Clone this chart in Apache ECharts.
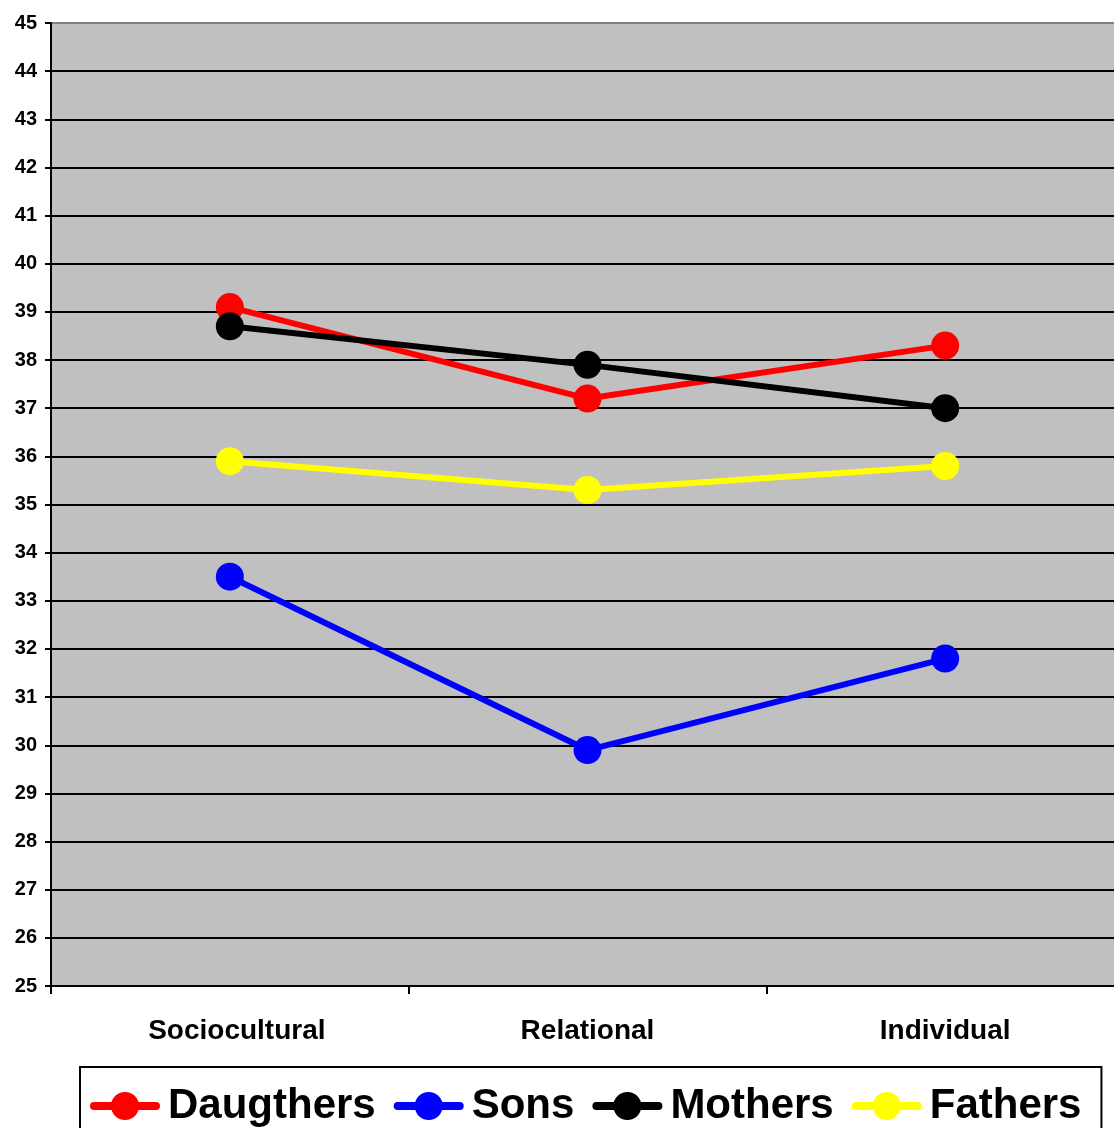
<!DOCTYPE html>
<html><head><meta charset="utf-8">
<script src="https://cdn.jsdelivr.net/npm/echarts@6/dist/echarts.min.js"></script>
<style>html,body{margin:0;padding:0;background:#fff;}#c{width:1114px;height:1128px;}</style>
</head><body><div id="c"></div>
<script>
const categories = ['Sociocultural', 'Relational', 'Individual'];
const daughters = [39.1, 37.2, 38.3];
const sons = [33.5, 29.9, 31.8];
const mothers = [38.7, 37.9, 37.0];
const fathers = [35.9, 35.3, 35.8];
const seriesNames = ['Daugthers', 'Sons', 'Mothers', 'Fathers'];
const seriesColors = ['#FF0000', '#0000FF', '#000000', '#FFFF00'];
const seriesData = [daughters, sons, mothers, fathers];

const legendIcon = 'path://M4,9 L66,9 A4,4 0 0 1 66,17 L4,17 A4,4 0 0 1 4,9 Z M21,13 A14,14 0 1 1 49,13 A14,14 0 1 1 21,13 Z';

// gridline colours: black everywhere, grey for the top (45) line
const splitColors = [];
for (let i = 0; i < 20; i++) splitColors.push('#000');
splitColors.push('#808080');

const chart = echarts.init(document.getElementById('c'), null, {renderer: 'canvas'});
const font = 'Arial, "Liberation Sans", sans-serif';
chart.setOption({
  animation: false,
  grid: {left: 51, top: 23, width: 1073, height: 963, show: true,
    outerBoundsMode: 'none', containLabel: false,
    backgroundColor: '#C0C0C0', borderColor: '#808080', borderWidth: 1},
  xAxis: {
    type: 'category', data: categories, boundaryGap: true,
    axisLine: {lineStyle: {color: '#000', width: 2}},
    axisTick: {show: true, length: 8, lineStyle: {color: '#000', width: 2}},
    axisLabel: {color: '#000', fontSize: 28, fontWeight: 'bold', fontFamily: font, margin: 31,
      formatter: (v, i) => i === 0 ? '{a|' + v + '}' : v,
      rich: {a: {color: '#000', fontSize: 28, fontWeight: 'bold', fontFamily: font, padding: [0, 0, 0, 14]}}},
    splitLine: {show: false}
  },
  yAxis: {
    type: 'value', min: 25, max: 45, interval: 1,
    axisLine: {show: true, lineStyle: {color: '#000', width: 2}},
    axisTick: {show: true, length: 6, lineStyle: {color: '#000', width: 2}},
    axisLabel: {color: '#000', fontSize: 20, fontWeight: 'bold', fontFamily: font, margin: 14},
    splitLine: {show: true, lineStyle: {color: splitColors, width: 2}}
  },
  legend: {
    left: 80, top: 1067, width: 1021,
    padding: [18, 20, 20, 10],
    borderColor: '#000', borderWidth: 2,
    itemWidth: 70, itemHeight: 28, itemGap: 18,
    icon: legendIcon,
    textStyle: {color: '#000', fontSize: 42, fontWeight: 'bold', fontFamily: font, padding: [0,0,0,3]},
    data: seriesNames
  },
  series: seriesNames.map((n, i) => ({
    name: n, type: 'line', data: seriesData[i],
    symbol: 'circle', symbolSize: 28,
    itemStyle: {color: seriesColors[i]},
    lineStyle: {color: seriesColors[i], width: 6},
    z: [3, 2, 4, 1][i]
  }))
});
</script></body></html>
